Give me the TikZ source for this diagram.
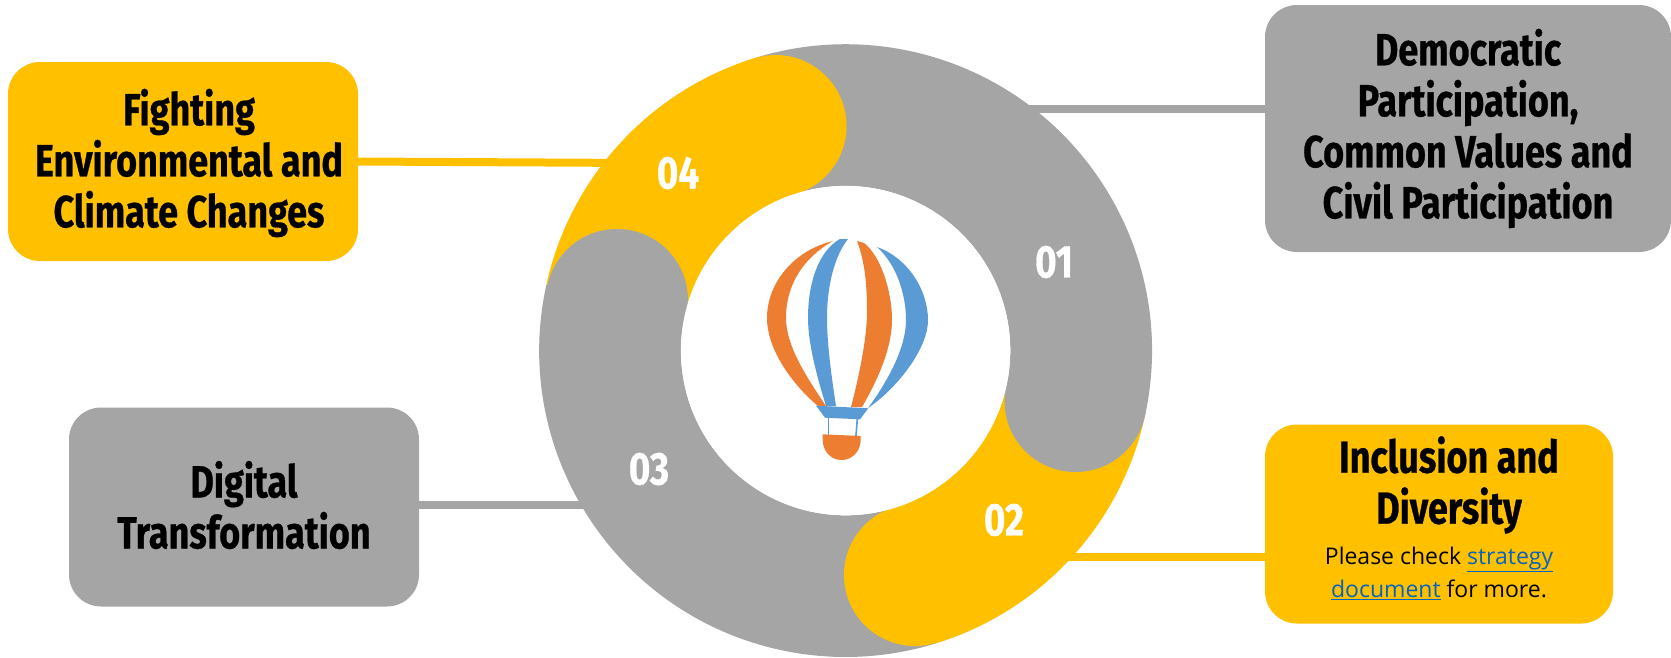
\documentclass[tikz,border=0pt]{standalone}
\usepackage{fontspec}
\setmainfont{Open Sans}
\newfontfamily\headfont[FakeStretch=0.8,FakeBold=0.6]{Fira Sans Bold}
\definecolor{ringgrey}{HTML}{A5A5A5}
\definecolor{ringyellow}{HTML}{FFC000}
\definecolor{ballorange}{HTML}{ED7D31}
\definecolor{ballblue}{HTML}{5B9BD5}
\definecolor{linkblue}{HTML}{0563C1}
\tikzset{
  card/.style={rounded corners=32pt,minimum height=#1,inner sep=0pt,text=black,font=\headfont\fontsize{45}{51}\selectfont,align=center},
  greycard/.style={card=199pt,fill=ringgrey},
  yellowcard/.style={card=199pt,fill=ringyellow},
  num/.style={text=white,font=\headfont\fontsize{46}{46}\selectfont,inner sep=0pt},
  link/.style={line width=8pt},
}
\newcommand{\sector}[3]{\fill[#1] ([shift={(#2:306.4)}]845.6,350.6) arc[start angle=#2,end angle=#3,radius=306.4] -- ([shift={(#3:164.7)}]845.6,350.6) arc[start angle=#3,end angle=#2,radius=164.7] -- cycle;}
\begin{document}
\begin{tikzpicture}[x=1pt,y=-1pt]
\useasboundingbox (0,0) rectangle (1671,657);
% cards
\node[yellowcard,minimum width=350pt] (fight) at (183,161.5) {};
\node[inner sep=0pt,text=black,font=\headfont\fontsize{45}{51}\selectfont,align=center] (fightt) at (189,163) {Fighting\\Environmental and\\Climate Changes};
\node[greycard,minimum width=406pt,minimum height=247pt] (dem) at (1468,128.5) {Democratic\\Participation,\\Common Values and\\Civil Participation};
\node[greycard,minimum width=350pt] (digi) at (244,507) {};
\node[inner sep=0pt,text=black,font=\headfont\fontsize{45}{51}\selectfont,align=center] (digit) at (244,505) {Digital\\Transformation};
\node[yellowcard,minimum width=348pt] (incl) at (1439,524) {};
\node[inner sep=0pt,text=black,font=\headfont\fontsize{45}{51}\selectfont,align=center,anchor=north] (inclt) at (1449,436) {Inclusion and\\Diversity};
\node[inner sep=0pt,text=black,font=\fontsize{23}{33}\selectfont,align=center,anchor=north] (inclsub) at (1439,547) {Please check \textcolor{linkblue}{\underline{strategy}}\\\textcolor{linkblue}{\underline{document}} for more.};
% connector ends inside the ring
\coordinate (r4) at (640,163);
\coordinate (r1) at (1000,109);
\coordinate (r3) at (620,505);
\coordinate (r2) at (1040,556.5);
\draw[link,ringyellow] (fight.east) -- (r4);
\draw[link,ringgrey] (r1 -| dem.west) -- (r1);
\draw[link,ringgrey] (r3 -| digi.east) -- (r3);
\draw[link,ringyellow] (r2 -| incl.west) -- (r2);
% ring (angles run clockwise because y points down)
\sector{ringgrey}{12.5}{-107.4}
\sector{ringyellow}{-107.4}{-167.5}
\sector{ringgrey}{-167.5}{-287.4}
\sector{ringyellow}{-287.4}{-347.5}
\fill[ringgrey] (1075.5,401) circle[radius=71];
\fill[ringyellow] (775.5,126) circle[radius=71];
\fill[ringgrey] (617,300) circle[radius=71];
\fill[ringyellow] (915,575) circle[radius=71];
\fill[white] (845.6,350.6) circle[radius=164.7];
% numbers
\node[num] (n1) at (1054,262) {01};
\node[num] (n2) at (1004,520) {02};
\node[num] (n3) at (649,469) {03};
\node[num] (n4) at (678,173) {04};
% balloon
\fill[ballorange] (833,241) .. controls (795,250) and (767,282) .. (767,318) .. controls (767,350) and (793,385) .. (818,406) -- (826,406) .. controls (805,375) and (786,345) .. (786,318) .. controls (786,285) and (803,258) .. (833,241) -- cycle;
\fill[ballblue] (840,239) .. controls (820,250) and (808,280) .. (808,318) .. controls (808,345) and (818,380) .. (826,406) -- (836,406) .. controls (832,380) and (827,345) .. (827,318) .. controls (827,285) and (835,255) .. (848,239) -- cycle;
\fill[ballorange] (857,241) -- (864,243) .. controls (880,255) and (892,290) .. (892,320) .. controls (892,350) and (875,385) .. (862,407) -- (851,407) .. controls (858,380) and (867,340) .. (867,312) .. controls (867,285) and (865,262) .. (857,241) -- cycle;
\fill[ballblue] (877,247) .. controls (908,258) and (928,290) .. (928,320) .. controls (928,350) and (895,390) .. (868,408) .. controls (885,385) and (906,350) .. (906,320) .. controls (906,295) and (897,265) .. (877,247) -- cycle;
\fill[ballblue] (816,405.7) -- (868.3,408.3) -- (860,419.3) -- (825,417.7) -- cycle;
\draw[ballblue,line width=1.6pt] (828.3,418) -- (828.3,437);
\draw[ballblue,line width=1.6pt] (857.3,419) -- (855.7,439);
\fill[ballorange] (822.7,434.3) -- (860.7,436) .. controls (862,450) and (853,460) .. (841.7,460) .. controls (830,460) and (821,450) .. (822.7,434.3) -- cycle;
\end{tikzpicture}
\end{document}
